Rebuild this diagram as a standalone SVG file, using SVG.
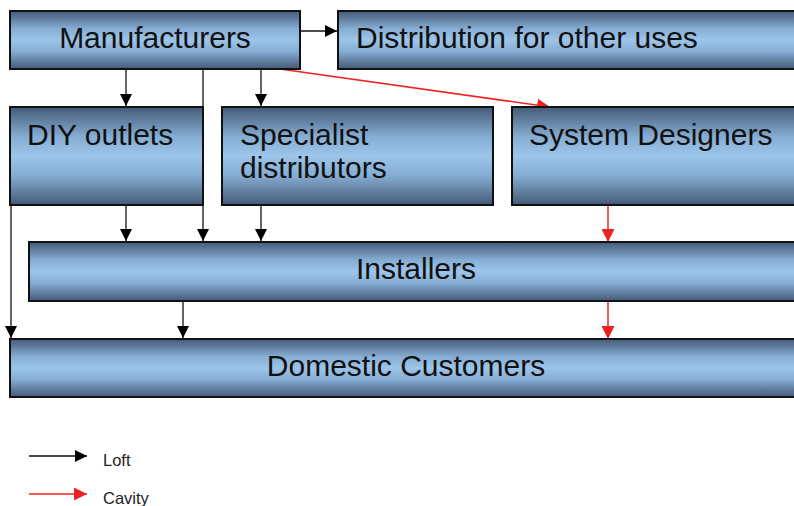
<svg xmlns="http://www.w3.org/2000/svg" width="794" height="506" viewBox="0 0 794 506">
<defs>
<linearGradient id="g" x1="0" y1="0" x2="0" y2="1">
<stop offset="0" stop-color="#435a76"/>
<stop offset="0.3" stop-color="#85acd2"/>
<stop offset="0.5" stop-color="#9dc4e9"/>
<stop offset="0.7" stop-color="#85acd2"/>
<stop offset="1" stop-color="#435a76"/>
</linearGradient>
<marker id="ab" viewBox="0 0 10 10" refX="10" refY="5" markerWidth="12" markerHeight="12" markerUnits="userSpaceOnUse" orient="auto">
<path d="M0,0 L10,5 L0,10 z" fill="#000"/>
</marker>
<marker id="ar" viewBox="0 0 10 10" refX="10" refY="5" markerWidth="13" markerHeight="13" markerUnits="userSpaceOnUse" orient="auto">
<path d="M0,0 L10,5 L0,10 z" fill="#ee2222"/>
</marker>
</defs>
<style>
.box{fill:url(#g);stroke:#111;stroke-width:2}
.t{font-family:"Liberation Sans",Arial,sans-serif;font-size:30px;fill:#111}
.k{stroke:#111;stroke-width:1.3;fill:none}
.r{stroke:#ee2222;stroke-width:1.5;fill:none}
.lg{font-family:"Liberation Sans",Arial,sans-serif;font-size:16.5px;fill:#222}
</style>
<g id="connectors">
<line class="k" x1="300" y1="31" x2="337" y2="31" marker-end="url(#ab)"/>
<line class="k" x1="126" y1="69" x2="126" y2="106" marker-end="url(#ab)"/>
<line class="k" x1="261" y1="69" x2="261" y2="106" marker-end="url(#ab)"/>
<line class="k" x1="203" y1="69" x2="203" y2="241" marker-end="url(#ab)"/>
<line class="r" x1="280" y1="69" x2="550" y2="107" marker-end="url(#ar)"/>
<line class="k" x1="126" y1="205" x2="126" y2="241" marker-end="url(#ab)"/>
<line class="k" x1="261" y1="205" x2="261" y2="241" marker-end="url(#ab)"/>
<line class="r" x1="608" y1="205" x2="608" y2="242" marker-end="url(#ar)"/>
<line class="k" x1="11" y1="205" x2="11" y2="338" marker-end="url(#ab)"/>
<line class="k" x1="183" y1="301" x2="183" y2="338" marker-end="url(#ab)"/>
<line class="r" x1="608" y1="301" x2="608" y2="339" marker-end="url(#ar)"/>
</g>
<g id="manufacturers"><rect class="box" x="10" y="11" width="290" height="58"/><text class="t" x="155" y="48" text-anchor="middle">Manufacturers</text></g>
<g id="distribution"><rect class="box" x="338" y="11" width="470" height="58"/><text class="t" x="356" y="48">Distribution for other uses</text></g>
<g id="diy"><rect class="box" x="10" y="107" width="193" height="98"/><text class="t" x="27" y="145">DIY outlets</text></g>
<g id="specialist"><rect class="box" x="222" y="107" width="271" height="98"/><text class="t" x="240" y="145">Specialist</text><text class="t" x="240" y="178">distributors</text></g>
<g id="designers"><rect class="box" x="512" y="107" width="296" height="98"/><text class="t" x="529" y="145">System Designers</text></g>
<g id="installers"><rect class="box" x="29" y="242" width="779" height="59"/><text class="t" x="416" y="279" text-anchor="middle">Installers</text></g>
<g id="customers"><rect class="box" x="10" y="339" width="798" height="58"/><text class="t" x="406" y="376" text-anchor="middle">Domestic Customers</text></g>
<g id="legend">
<line class="k" x1="29" y1="456" x2="87" y2="456" marker-end="url(#ab)"/>
<text class="lg" x="103" y="466">Loft</text>
<line class="r" x1="29" y1="494" x2="87" y2="494" marker-end="url(#ar)"/>
<text class="lg" x="103" y="504">Cavity</text>
</g>
</svg>
